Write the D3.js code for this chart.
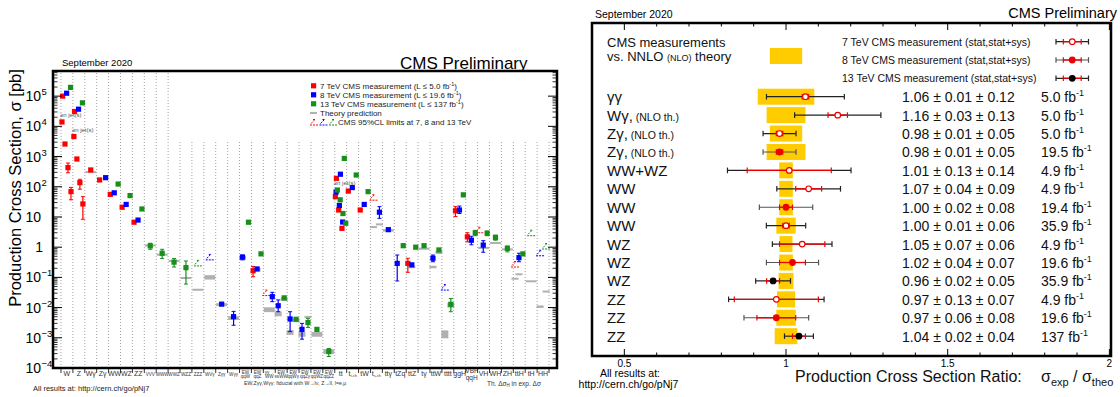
<!DOCTYPE html>
<html>
<head>
<meta charset="utf-8">
<title>CMS cross section summary, September 2020</title>
<script src="https://cdn.jsdelivr.net/npm/d3@7"></script>
<style>
  body { margin:0; background:#fff; }
  svg text { font-family: "Liberation Sans", Arial, Helvetica, sans-serif; }
</style>
</head>
<body>
<svg id="chart" width="1120" height="397"></svg>
<script>
// ---------------- left panel: production cross sections [pb] ----------------
var categories = ["W","Z","Wγ","Zγ","WW","WZ","ZZ","VVV","WWW","WWZ","WZZ","ZZZ","WVγ","Zγγ","Wγγ",
  "EW|qqW","EW|qqZ","γγ→|WW","EW|ssWW","EW|qqWγ","EW|qqZγ","EW|qqWZ","EW|qqZZ",
  "tt","t_t-ch","tW","t_s-ch","ttγ","tZq","ttZ","tγ","ttW","tttt","ggH","VBF|qqH","VH","WH","ZH","ttH","tH","HH"];

// [bin, value, errLow, errHigh]
var meas7 = [[0,1.0e5],[1,3.1e4],[2,360],[3,168],[4,56],[5,21],[6,6.7],[16,0.166,0.105,0.23],
  [23,190],[24,72],[25,17],[29,0.29,0.147,0.43],[33,16,10.3,22],[34,2.2,1.5,3.0]];
var meas8 = [[0,1.25e5],[1,3.7e4],[3,200],[4,63],[5,26],[6,7.9],[13,0.013],[14,0.005,0.0026,0.0075],
  [15,0.47,0.38,0.55],[16,0.19],[17,0.023,0.0157,0.032],[18,0.0115,0.0073,0.018],[19,0.0042,0.0016,0.0073],
  [20,0.0019,0.0009,0.003],[23,260],[24,94],[25,26],[26,14.4,9,22],[27,3.8],[28,0.29,0.076,0.55],
  [29,0.26],[31,0.43,0.33,0.55],[33,17,13,23],[34,1.7,1.2,2.3],[35,1.17,0.68,1.64],[38,0.45,0.33,0.63]];
var meas13 = [[0,1.95e5],[1,6.0e4],[4,123],[5,51],[6,18.4],[7,1.1,0.85,1.35],[8,0.63,0.42,0.85],
  [9,0.32,0.22,0.42],[10,0.21,0.06,0.35],[15,6.7],[16,0.6],[18,0.021],[19,0.0041],[20,0.0032,0.0022,0.0044],
  [21,0.0019],[22,0.00035,0.00024,0.00044],[23,870],[24,245],[25,69],[28,1.12],[29,1.0],[30,1.12],
  [31,0.81],[32,0.0128,0.0073,0.020],[33,54],[34,3.0,2.4,3.6],[35,2.9,2.4,3.4],[36,2.1,1.7,2.5],
  [37,0.91,0.7,1.1],[38,0.6]];

// 95% CL upper limits [bin, value]
var lim7 = [[17,0.025],[26,36],[35,3.0],[38,0.22]];
var lim8 = [[12,0.38],[32,0.038],[40,0.52]];
var lim13 = [[11,0.24],[39,2.4],[40,0.87]];

// jet multiplicity points (>= n jets)
var wJets7 = [1.4e4, 2.6e3, 430, 69];
var wJetsErr7 = [null, null, [290, 610], [37, 95]];
var zJets7 = [4.6e3, 830, 137, 27];
var zJetsErr7 = [null, null, [83, 177], [8.4, 47]];
var ttJets7 = [47, 17, 4.2];
var ttJets8 = [67, 24, 6.8];
var ttJets13 = [78, 37, 13, 6.2];

// theory predictions [bin, energy slot (0 = whole bin), value, band factor]
var theory = [[2,0,316,1.04],[7,0,1.17,1.05],[8,0,0.58,1.05],[9,0,0.36,1.05],[10,0,0.098,1.05],
  [11,0,0.040,1.05],[12,0,0.10,1.18],[13,0,0.0125,1.12],[14,0,0.0045,1.15],[15,8,0.45,1.15],
  [16,8,0.18,1.15],[17,0,0.0085,1.2],[18,8,0.0062,1.2],[18,13,0.019,1.15],[19,8,0.0015,1.2],
  [19,13,0.0038,1.15],[20,8,0.0013,1.2],[20,13,0.005,1.06],[21,0,0.0013,1.2],[22,0,0.00035,1.2],
  [26,7,4.8,1.04],[26,8,5.9,1.04],[27,0,3.6,1.1],[29,8,0.22,1.1],[30,0,0.92,1.04],[31,8,0.22,1.1],
  [31,13,0.67,1.12],[32,8,0.0013,1.35],[32,13,0.012,1.2],[35,0,0.98,1.04],[36,0,1.43,1.04],
  [37,0,0.88,1.04],[38,7,0.093,1.05],[38,8,0.13,1.05],[39,0,0.077,1.04],[40,8,0.0107,1.1],[40,13,0.035,1.05]];

var yTickExp = [-4,-3,-2,-1,0,1,2,3,4,5];

// ---------------- right panel: ratio to theory ----------------
var rowLabels = ["γγ","Wγ,","Zγ,","Zγ,","WW+WZ","WW","WW","WW","WZ","WZ","WZ","ZZ","ZZ","ZZ"];
var rowNlo = [false,true,true,true,false,false,false,false,false,false,false,false,false,false];
var ratio = [1.06,1.16,0.98,0.98,1.01,1.07,1.00,1.00,1.05,1.02,0.96,0.97,0.97,1.04];
var statErr = [0.01,0.03,0.01,0.01,0.13,0.04,0.02,0.01,0.07,0.04,0.02,0.13,0.06,0.02];
var systErr = [0.12,0.13,0.05,0.05,0.14,0.09,0.08,0.06,0.06,0.07,0.05,0.07,0.08,0.04];
var lumi = ["5.0","5.0","5.0","19.5","4.9","4.9","19.4","35.9","4.9","19.6","35.9","4.9","19.6","137"];
var markerKind = ["open","open","open","filled","open","open","filled","open","open","filled","black","open","filled","black"];
var theoryUnc = [0.0875,0.06,0.05,0.06,0.021,0.021,0.021,0.03,0.02,0.021,0.023,0.028,0.03,0.035];
var ratioTicks = [0.5, 1, 1.5, 2];

var svg = d3.select("#chart");

// ======================= LEFT PANEL =======================
var L = {left: 53, right: 557, top: 71, bottom: 368};
var xBin = d3.scaleLinear().domain([-0.67, categories.length + 0.67]).range([L.left, L.right]);
var yL = d3.scaleLog().domain([1e-4, 6.8e5]).range([L.bottom, L.top]);
var binW = xBin(1) - xBin(0);

var series = [
  {e: 7, color: "#ff0000", meas: meas7, lims: lim7},
  {e: 8, color: "#0000ff", meas: meas8, lims: lim8},
  {e: 13, color: "#17901b", meas: meas13, lims: lim13}
];

// where a point sits inside its bin depends on how many energies share the bin
var present = categories.map(function(){ return []; });
series.forEach(function(s){
  s.meas.concat(s.lims).forEach(function(d){
    if (present[d[0]].indexOf(s.e) < 0) present[d[0]].push(s.e);
  });
});
present.forEach(function(p){ p.sort(function(a,b){ return a-b; }); });
var slotOffsets = {1:[0], 2:[-3,3], 3:[-4.3,-0.3,3.6]};
function xItem(bin, e){
  var p = present[bin], i = p.indexOf(e), c = xBin(bin + 0.5);
  if (!e || i < 0) return c;
  return c + slotOffsets[p.length][i];
}

// dotted bin separators (cut under the legend)
svg.append("g").selectAll("line").data(d3.range(categories.length + 1)).enter().append("line")
  .attr("x1", function(k){ return xBin(k); }).attr("x2", function(k){ return xBin(k); })
  .attr("y1", L.bottom).attr("y2", function(k){ return k <= 9 ? L.top : 141; })
  .attr("stroke", "#8a8a8a").attr("stroke-width", 0.8).attr("stroke-dasharray", "1,2");

// theory bands
svg.append("g").selectAll("rect").data(theory).enter().append("rect")
  .attr("x", function(d){ return d[1] ? xItem(d[0], d[1]) - 3.5 : xBin(d[0]) + 0.5; })
  .attr("width", function(d){ return d[1] ? 7 : binW - 1; })
  .attr("y", function(d){ return yL(d[2] * d[3]); })
  .attr("height", function(d){ return Math.max(2, yL(d[2] / d[3]) - yL(d[2] * d[3])); })
  .attr("fill", "#a2a2a2").attr("opacity", 0.85);

function errBars(g, pts, xf, color){
  var e = pts.filter(function(d){ return d.lo != null; });
  g.selectAll(null).data(e).enter().append("line")
    .attr("x1", xf).attr("x2", xf)
    .attr("y1", function(d){ return yL(d.lo); }).attr("y2", function(d){ return yL(d.hi); })
    .attr("stroke", color).attr("stroke-width", 1.2);
  ["lo","hi"].forEach(function(k){
    g.selectAll(null).data(e).enter().append("line")
      .attr("x1", function(d,i){ return xf(d,i) - 2; }).attr("x2", function(d,i){ return xf(d,i) + 2; })
      .attr("y1", function(d){ return yL(d[k]); }).attr("y2", function(d){ return yL(d[k]); })
      .attr("stroke", color).attr("stroke-width", 1);
  });
}
function squares(g, pts, xf, color){
  g.selectAll(null).data(pts).enter().append("rect")
    .attr("x", function(d,i){ return xf(d,i) - 2.6; }).attr("y", function(d){ return yL(d.v) - 2.6; })
    .attr("width", 5.2).attr("height", 5.2).attr("fill", color);
}
function limitPath(x, y){
  return "M" + (x-4) + "," + y + "H" + (x+4) +
         "M" + (x-3) + "," + (y-1.5) + "L" + (x+1) + "," + (y-5.5) +
         "M" + (x-1) + "," + (y-5.5) + "H" + (x+2);
}

series.forEach(function(s){
  var g = svg.append("g");
  var pts = s.meas.map(function(d){ return {bin: d[0], v: d[1], lo: d[2], hi: d[3]}; });
  var xf = function(d){ return xItem(d.bin, s.e); };
  errBars(g, pts, xf, s.color);
  squares(g, pts, xf, s.color);
  g.selectAll("path").data(s.lims).enter().append("path")
    .attr("d", function(d){ return limitPath(xItem(d[0], s.e), yL(d[1])); })
    .attr("fill", "none").attr("stroke", s.color).attr("stroke-width", 1)
    .attr("stroke-dasharray", "2,1");
});

// jet multiplicity series
var jetSets = [
  {bin: 0, color: "#ff0000", vals: wJets7, errs: wJetsErr7, shift: 1, step: 3, tag: true},
  {bin: 1, color: "#ff0000", vals: zJets7, errs: zJetsErr7, shift: 1, step: 3, tag: true},
  {bin: 23, color: "#ff0000", vals: ttJets7, errs: [], shift: 0.6, step: 3.3},
  {bin: 23, color: "#0000ff", vals: ttJets8, errs: [], shift: 1.3, step: 3.3},
  {bin: 23, color: "#17901b", vals: ttJets13, errs: [], shift: 2.6, step: 2.8, tag: true}
];
jetSets.forEach(function(js){
  var g = svg.append("g");
  var pts = js.vals.map(function(v, j){
    var e = js.errs[j];
    return {j: j, v: v, lo: e ? e[0] : null, hi: e ? e[1] : null};
  });
  var xf = function(d){ return xBin(js.bin) + js.shift + d.j * js.step; };
  errBars(g, pts, xf, js.color);
  squares(g, pts, xf, js.color);
  if (js.tag) {
    g.append("text").attr("x", xBin(js.bin) - 1).attr("y", yL(js.vals[0]) - 5)
      .attr("font-size", 6).attr("fill", "#555").text("≥n jet(s)");
  }
});

// legend
var lg = svg.append("g").attr("font-size", 8).attr("fill", "#222");
var legRows = [
  {c: "#ff0000", t: "7 TeV CMS measurement (L ≤ 5.0 fb", s: "-1", after: ")"},
  {c: "#0000ff", t: "8 TeV CMS measurement (L ≤ 19.6 fb", s: "-1", after: ")"},
  {c: "#17901b", t: "13 TeV CMS measurement (L ≤ 137 fb", s: "-1", after: ")"}
];
legRows.forEach(function(r, i){
  var y = 86 + i * 9;
  lg.append("rect").attr("x", 311).attr("y", y - 2.8).attr("width", 5.2).attr("height", 5.2).attr("fill", r.c);
  var t = lg.append("text").attr("x", 320).attr("y", y + 3);
  t.append("tspan").text(r.t);
  t.append("tspan").attr("font-size", 5.5).attr("dy", -3).text(r.s);
  t.append("tspan").attr("dy", 3).text(r.after);
});
lg.append("line").attr("x1", 310).attr("x2", 317).attr("y1", 113).attr("y2", 113)
  .attr("stroke", "#999").attr("stroke-width", 1.5);
lg.append("text").attr("x", 320).attr("y", 116).text("Theory prediction");
["#ff0000","#0000ff","#17901b"].forEach(function(c, i){
  lg.append("path").attr("d", limitPath(314 + i * 9.5, 125)).attr("fill", "none")
    .attr("stroke", c).attr("stroke-width", 1).attr("stroke-dasharray", "2,1");
});
lg.append("text").attr("x", 338).attr("y", 125).text("CMS 95%CL limits at 7, 8 and 13 TeV");

// y axis ticks (left and mirrored right)
var minor = [];
yTickExp.forEach(function(k){ for (var m = 2; m <= 9; m++) if (k < 5 || m <= 6) minor.push(m * Math.pow(10, k)); });
var ax = svg.append("g").attr("stroke", "#000");
[[L.left, 1], [L.right, -1]].forEach(function(side){
  ax.selectAll(null).data(yTickExp).enter().append("line")
    .attr("x1", side[0]).attr("x2", side[0] + side[1] * 9)
    .attr("y1", function(k){ return yL(Math.pow(10, k)); }).attr("y2", function(k){ return yL(Math.pow(10, k)); })
    .attr("stroke-width", 1);
  ax.selectAll(null).data(minor).enter().append("line")
    .attr("x1", side[0]).attr("x2", side[0] + side[1] * 4.5)
    .attr("y1", function(v){ return yL(v); }).attr("y2", function(v){ return yL(v); })
    .attr("stroke-width", 0.8);
});
var yl = svg.append("g").attr("font-size", 14).attr("fill", "#000");
yTickExp.forEach(function(k){
  var y = yL(Math.pow(10, k)) + 5;
  if (k === 0) { yl.append("text").attr("x", 43).attr("y", y).attr("text-anchor", "end").text("1"); return; }
  yl.append("text").attr("x", 41).attr("y", y).attr("text-anchor", "end").text("10");
  if (k !== 1) yl.append("text").attr("x", 41.5).attr("y", y - 6).attr("font-size", 9.5)
    .text(k < 0 ? "−" + (-k) : String(k));
});
svg.append("text").attr("transform", "translate(21,188) rotate(-90)")
  .attr("text-anchor", "middle").attr("font-size", 16.5).text("Production Cross Section, σ [pb]");

// x axis ticks and labels
svg.append("g").selectAll("line").data(d3.range(categories.length + 1)).enter().append("line")
  .attr("x1", function(k){ return xBin(k); }).attr("x2", function(k){ return xBin(k); })
  .attr("y1", L.bottom).attr("y2", L.bottom + 5).attr("stroke", "#000").attr("stroke-width", 0.8);
svg.append("g").selectAll("text").data(categories).enter().append("text")
  .attr("x", function(d, k){ return xBin(k + 0.5); })
  .attr("text-anchor", "middle")
  .attr("fill", "#333")
  .attr("font-size", function(d, k){ return (k >= 7 && k <= 22) ? 4.6 : 7; })
  .each(function(d, k){
    var t = d3.select(this), x = xBin(k + 0.5), lines = d.split("|");
    t.attr("y", lines.length > 1 ? (k > 30 ? 373 : 373.5) : 375.5);
    if (k > 30 && lines.length > 1) t.attr("font-size", 6.5);
    lines.forEach(function(p, j){
      var parts = p.split("_");
      t.append("tspan").attr("x", x).attr("dy", j ? "1.05em" : 0).text(parts[0]);
      if (parts[1]) t.append("tspan").attr("font-size", "0.55em").attr("dy", "0.3em").text(parts[1]);
    });
  });
svg.append("text").attr("x", 244).attr("y", 385).attr("font-size", 5.2).attr("fill", "#333")
  .text("EW,Zγγ,Wγγ: fiducial with W→lν, Z→ll, l=e,μ");
var th = svg.append("text").attr("x", 487).attr("y", 385.5).attr("font-size", 6.5).attr("fill", "#333");
th.append("tspan").text("Th. Δσ");
th.append("tspan").attr("font-size", 4.5).attr("dy", 1.5).text("H");
th.append("tspan").attr("dy", -1.5).text(" in exp. Δσ");
svg.append("text").attr("x", 33).attr("y", 391).attr("font-size", 7.5).attr("fill", "#222")
  .text("All results at: http://cern.ch/go/pNj7");
svg.append("text").attr("x", 62).attr("y", 66).attr("font-size", 9.5).text("September 2020");
svg.append("text").attr("x", 400).attr("y", 69).attr("font-size", 17).text("CMS Preliminary");

svg.append("rect").attr("x", L.left).attr("y", L.top).attr("width", L.right - L.left)
  .attr("height", L.bottom - L.top).attr("fill", "none").attr("stroke", "#000").attr("stroke-width", 2.5);

// ======================= RIGHT PANEL =======================
var R = {left: 592, right: 1111, top: 23, bottom: 356};
var xR = d3.scaleLinear().domain([0.4, 2.005]).range([R.left, R.right]);
var yR = d3.scaleBand().domain(d3.range(rowLabels.length)).range([87.5, 345.4]);
function rowY(i){ return yR(i) + yR.bandwidth() / 2; }

// theory bands
svg.append("g").selectAll("rect").data(theoryUnc).enter().append("rect")
  .attr("x", function(d){ return xR(1 - d); })
  .attr("width", function(d){ return xR(1 + d) - xR(1 - d); })
  .attr("y", function(d, i){ return rowY(i) - 8; }).attr("height", 16)
  .attr("fill", "#ffcc00");

function ratioBar(g, sc, y, c, s, tot, kind){
  var outer = kind === "filled" ? "#555" : "#222";
  [[c - tot, c + tot, outer, 1.2], [c - s, c + s, "#ee0000", 1.3]].forEach(function(b){
    g.append("line").attr("x1", sc(b[0])).attr("x2", sc(b[1])).attr("y1", y).attr("y2", y)
      .attr("stroke", b[2]).attr("stroke-width", b[3]);
    [b[0], b[1]].forEach(function(v){
      g.append("line").attr("x1", sc(v)).attr("x2", sc(v)).attr("y1", y - 2.8).attr("y2", y + 2.8)
        .attr("stroke", b[2]).attr("stroke-width", 1.2);
    });
  });
  g.append("circle").attr("cx", sc(c)).attr("cy", y).attr("r", 2.8)
    .attr("fill", kind === "open" ? "#fff" : (kind === "black" ? "#000" : "#ee0000"))
    .attr("stroke", kind === "black" ? "#000" : "#ee0000").attr("stroke-width", 1.2);
}

var rg = svg.append("g");
ratio.forEach(function(r, i){
  var tot = Math.sqrt(statErr[i] * statErr[i] + systErr[i] * systErr[i]);
  ratioBar(rg, xR, rowY(i), r, statErr[i], tot, markerKind[i]);
});

// row labels, values, luminosities
var rt = svg.append("g").attr("fill", "#111");
rowLabels.forEach(function(lbl, i){
  var y = rowY(i) + 5.5;
  var t = rt.append("text").attr("x", 607).attr("y", y).attr("font-size", 15);
  t.append("tspan").text(lbl);
  if (rowNlo[i]) t.append("tspan").attr("font-size", 10.5).text(" (NLO th.)");
  rt.append("text").attr("x", 902).attr("y", y).attr("font-size", 14)
    .text(ratio[i].toFixed(2) + " ± " + statErr[i].toFixed(2) + " ± " + systErr[i].toFixed(2));
  var l = rt.append("text").attr("x", 1041).attr("y", y).attr("font-size", 14);
  l.append("tspan").text(lumi[i] + " fb");
  l.append("tspan").attr("font-size", 9).attr("dy", -6).text("-1");
});

// legend
var lr = svg.append("g").attr("fill", "#111");
lr.append("text").attr("x", 607).attr("y", 47).attr("font-size", 13).text("CMS measurements");
var vs = lr.append("text").attr("x", 607).attr("y", 60.5).attr("font-size", 13);
vs.append("tspan").text("vs. NNLO ");
vs.append("tspan").attr("font-size", 9).text("(NLO)");
vs.append("tspan").text(" theory");
lr.append("rect").attr("x", xR(0.95)).attr("width", xR(1.05) - xR(0.95)).attr("y", 48).attr("height", 16)
  .attr("fill", "#ffcc00");
var legR = [
  {t: "7 TeV CMS measurement (stat,stat+sys)", k: "open"},
  {t: "8 TeV CMS measurement (stat,stat+sys)", k: "filled"},
  {t: "13 TeV CMS measurement (stat,stat+sys)", k: "black"}
];
var xLeg = d3.scaleLinear().domain([-1, 1]).range([1056, 1088.5]);
legR.forEach(function(r, i){
  var y = 41.7 + i * 18.3;
  lr.append("text").attr("x", 842).attr("y", y + 3.8).attr("font-size", 10.5).text(r.t);
  ratioBar(lr, xLeg, y, 0, 0.55, 1, r.k);
});

// axes
var tickVals = d3.range(5, 21).map(function(v){ return v / 10; });
var at = svg.append("g").attr("stroke", "#000");
at.selectAll(null).data(tickVals).enter().append("line")
  .attr("x1", function(v){ return xR(v); }).attr("x2", function(v){ return xR(v); })
  .attr("y1", R.bottom).attr("y2", function(v){ return R.bottom - (ratioTicks.indexOf(v) >= 0 ? 7 : 3.5); })
  .attr("stroke-width", 1);
at.selectAll(null).data(tickVals).enter().append("line")
  .attr("x1", function(v){ return xR(v); }).attr("x2", function(v){ return xR(v); })
  .attr("y1", R.top).attr("y2", function(v){ return R.top + (ratioTicks.indexOf(v) >= 0 ? 7 : 3.5); })
  .attr("stroke-width", 1);
svg.append("g").selectAll("text").data(ratioTicks).enter().append("text")
  .attr("x", function(v){ return xR(v); }).attr("y", 366.5)
  .attr("text-anchor", "middle").attr("font-size", 10).text(function(v){ return String(v); });

svg.append("text").attr("x", 795).attr("y", 382).attr("font-size", 16).attr("fill", "#111")
  .text("Production Cross Section Ratio:");
var xt = svg.append("text").attr("x", 1041).attr("y", 382).attr("font-size", 16).attr("fill", "#111");
xt.append("tspan").text("σ");
xt.append("tspan").attr("font-size", 11).attr("dy", 4).text("exp");
xt.append("tspan").attr("dy", -4).text(" / σ");
xt.append("tspan").attr("font-size", 11).attr("dy", 4).text("theo");

svg.append("text").attr("x", 630).attr("y", 377).attr("text-anchor", "middle").attr("font-size", 10.5)
  .text("All results at:");
svg.append("text").attr("x", 628.5).attr("y", 387.5).attr("text-anchor", "middle").attr("font-size", 10.5)
  .text("http://cern.ch/go/pNj7");
svg.append("text").attr("x", 595).attr("y", 18).attr("font-size", 10.5).text("September 2020");
svg.append("text").attr("x", 1117).attr("y", 18).attr("text-anchor", "end").attr("font-size", 14.5)
  .text("CMS Preliminary");

svg.append("rect").attr("x", R.left).attr("y", R.top).attr("width", R.right - R.left)
  .attr("height", R.bottom - R.top).attr("fill", "none").attr("stroke", "#000").attr("stroke-width", 2.5);
</script>
</body>
</html>
